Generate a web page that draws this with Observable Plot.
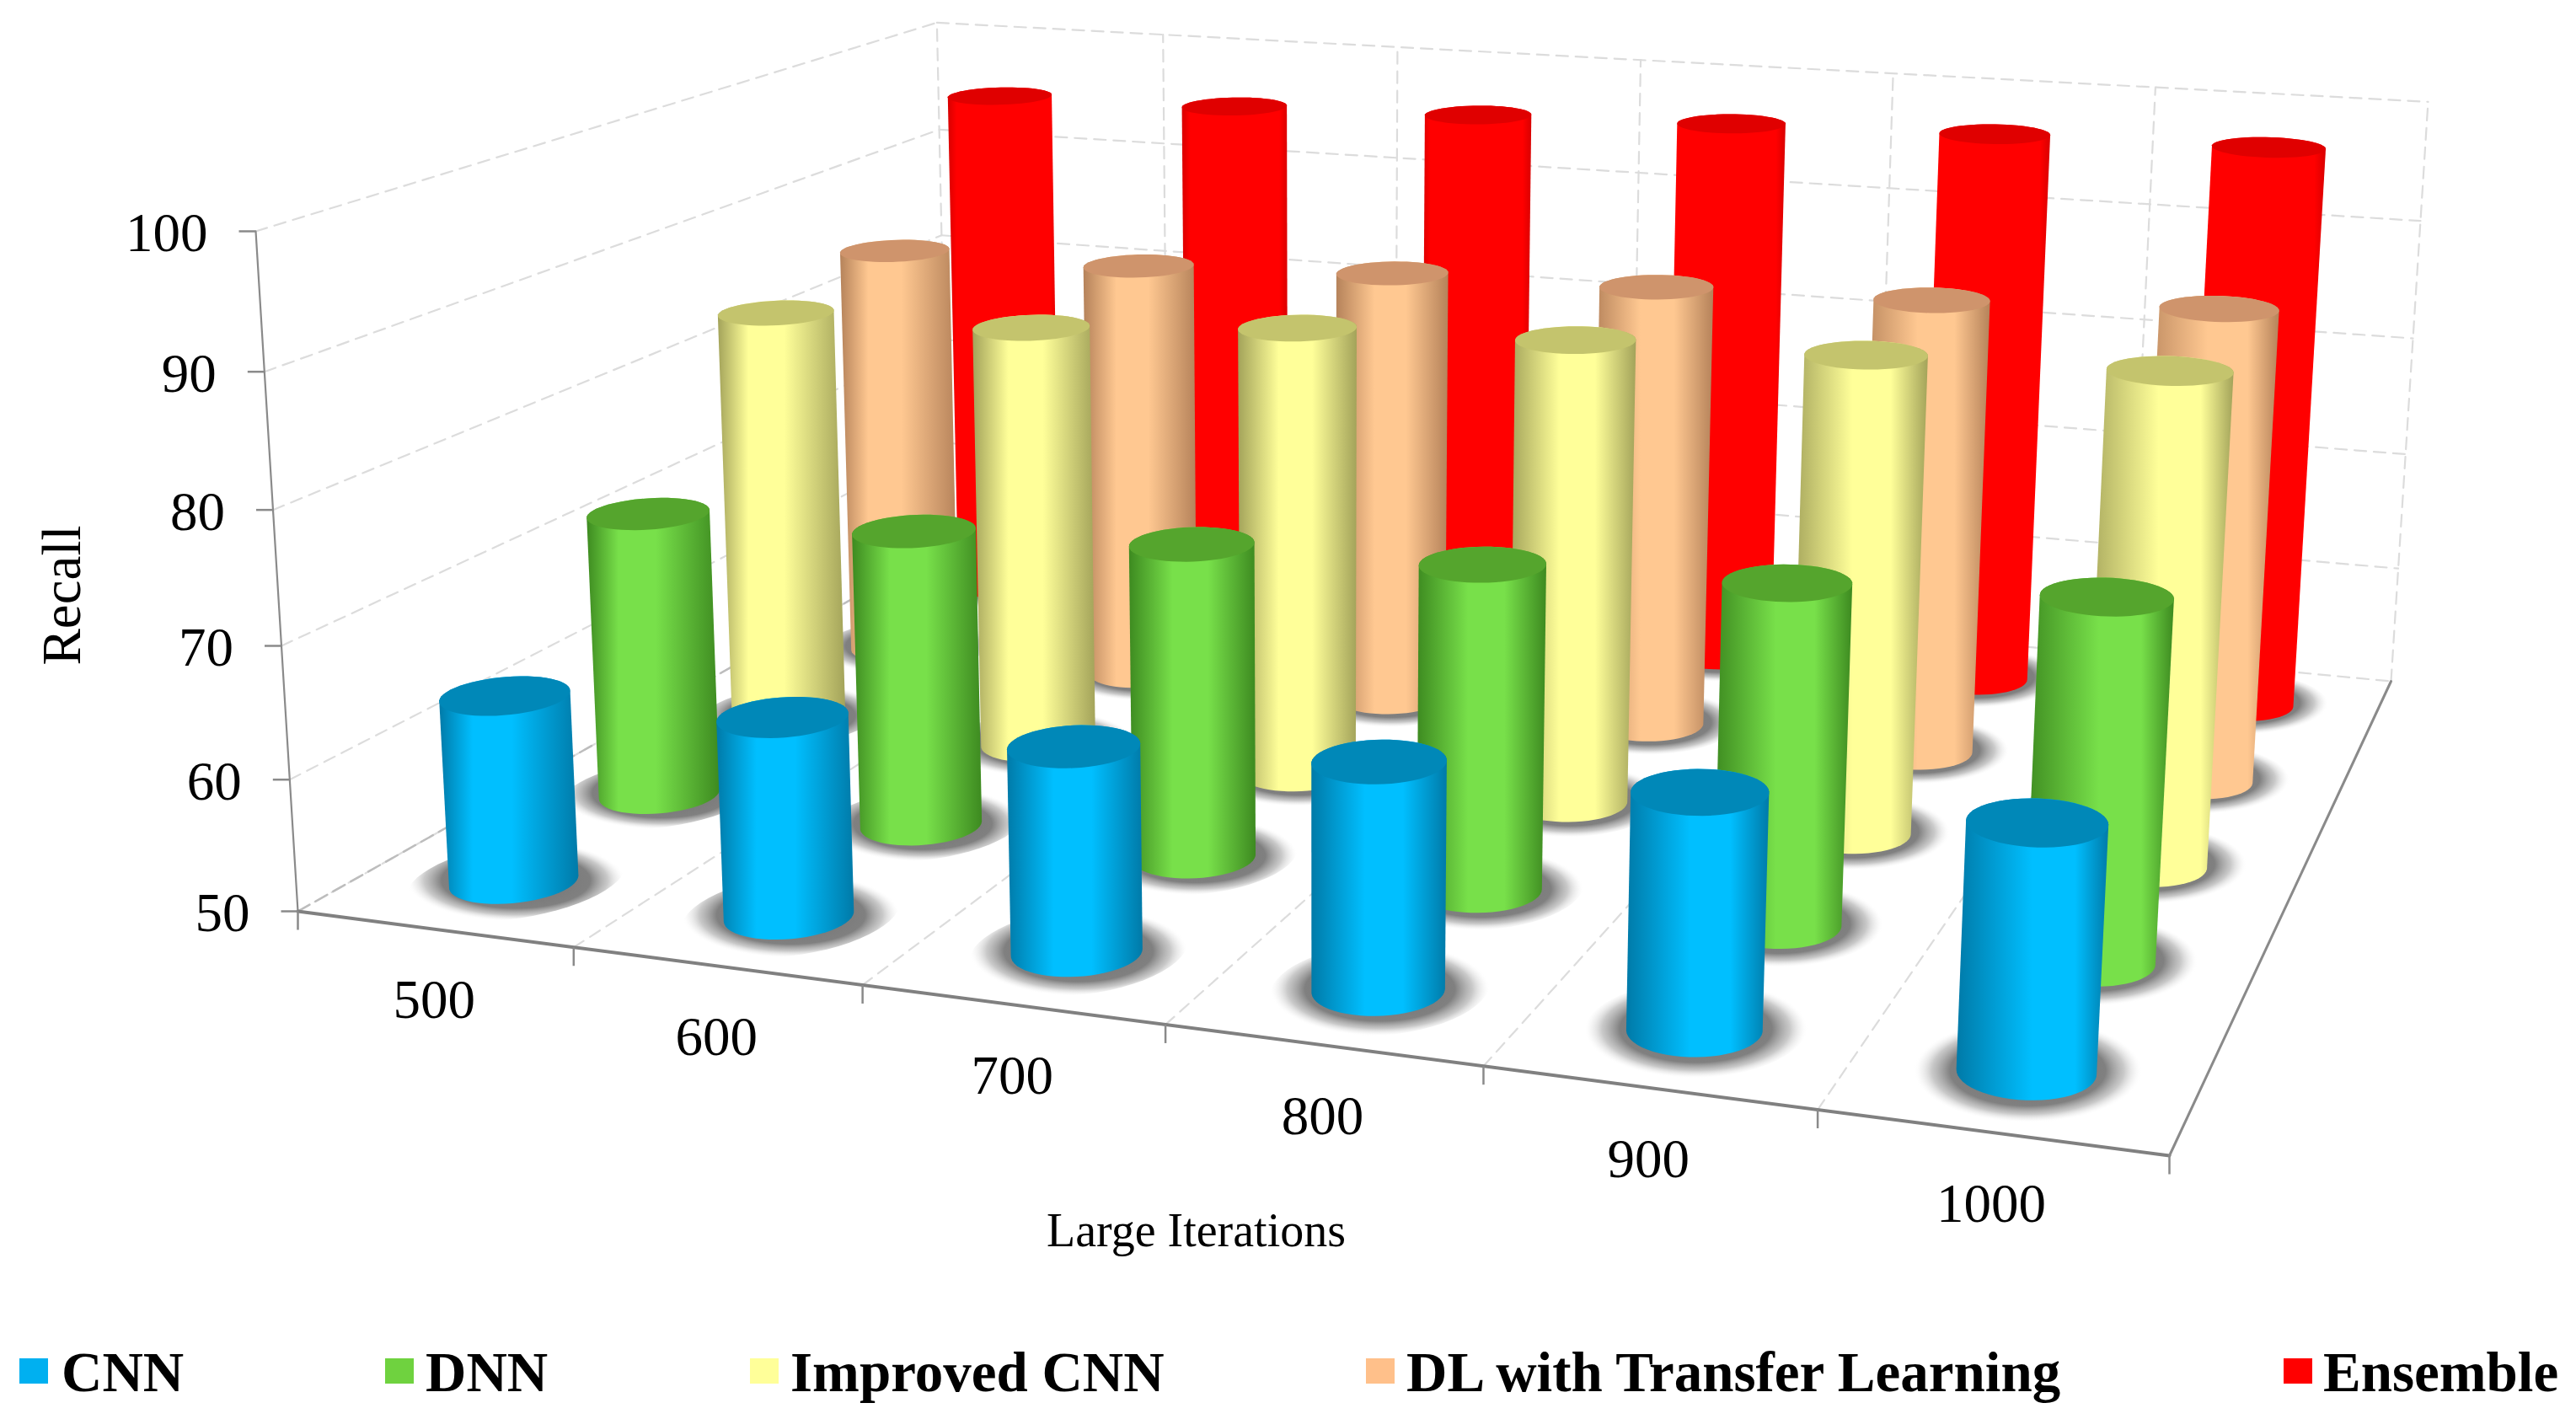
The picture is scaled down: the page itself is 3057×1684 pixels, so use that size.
<!DOCTYPE html>
<html><head><meta charset="utf-8">
<style>
html,body{margin:0;padding:0;background:#fff;overflow:hidden}
#legend{position:relative;height:124px;font:bold 67px "Liberation Serif",serif;color:#000}
#legend .k{position:absolute;top:52px;width:34px;height:30px}
#legend .t{position:absolute;top:32px;line-height:72px;white-space:nowrap}
</style>
<script src="https://cdn.jsdelivr.net/npm/d3@7"></script>
<script src="https://cdn.jsdelivr.net/npm/@observablehq/plot@0.6"></script>
</head><body><div id="chart"></div><div id="legend"></div>
<script>
const iterations = [500, 600, 700, 800, 900, 1000];
const recallTicks = [50, 60, 70, 80, 90, 100];
const seriesNames = ["CNN", "DNN", "Improved CNN", "DL with Transfer Learning", "Ensemble"];
const cnn      = [64.3, 65.0, 65.2, 66.5, 66.8, 67.2];
const dnn      = [72.7, 73.3, 74.3, 74.8, 75.5, 76.6];
const improved = [84.2, 84.6, 86.2, 86.9, 87.4, 87.9];
const transfer = [85.3, 85.5, 86.4, 86.8, 87.3, 88.2];
const ensemble = [95.4, 95.7, 96.2, 96.7, 97.1, 97.3];
const seriesValues = [cnn, dnn, improved, transfer, ensemble];
const lightColors = ["#00bfff", "#78e04a", "#ffff99", "#ffc891", "#ff0000"];
const darkColors  = ["#007aa8", "#3d8a20", "#a3a35a", "#b5825a", "#d80000"];
const topColors   = ["#0088b8", "#55a52d", "#c4c46d", "#cf946c", "#e00000"];
const legendColors= ["#00b0f0", "#6fd23f", "#ffff99", "#ffc08a", "#ff0000"];
const legendKeyX  = [23, 457, 890, 1621, 2710];
const legendTextX = [73, 505, 938, 1669, 2757];

// box corners of the 3D frame, (u along iterations, v along series, h along recall)
const O = [353, 1081], U = [2574, 1371], V = [1125, 646], B = [2837, 808], H = [303, 274], T = [2881, 118];
const W = 3057, SVGH = 1560;
const det = (a,b,c,d) => a*d - b*c;
const ax = B[0]-U[0], bx = B[0]-V[0], cx = U[0]+V[0]-O[0]-B[0];
const ay = B[1]-U[1], by = B[1]-V[1], cy = U[1]+V[1]-O[1]-B[1];
const wu = det(cx,bx,cy,by)/det(ax,bx,ay,by), wv = det(ax,cx,ay,cy)/det(ax,bx,ay,by);
const wh = ((U[0]+V[0]+H[0]-2*O[0]-T[0]) - wu*(T[0]-U[0]) - wv*(T[0]-V[0])) / (T[0]-H[0]);
function P(u, v, h) {
  const w = 1 + wu*u + wv*v + wh*h;
  const f = i => (O[i] + (U[i]*(1+wu)-O[i])*u + (V[i]*(1+wv)-O[i])*v + (H[i]*(1+wh)-O[i])*h) / w;
  return [f(0), f(1)];
}
const hOf = r => (r - 50) / 50;
const uOf = i => (i + 0.5) / iterations.length;
const vOf = s => (s + 0.5) / seriesNames.length;
const uEdge = i => i / iterations.length;

const RU = 0.0335, RV = 0.046, STEPS = 56;
const ring = (u, v, h, ru, rv) => d3.range(STEPS).map(k => {
  const t = 2*Math.PI*k/STEPS;
  return P(u + ru*Math.cos(t), v + rv*Math.sin(t), h);
});
const poly = pts => pts.map(p => ({x: p[0], y: p[1]}));

const marks = [];
// gradients: the highlight slides to the right with the column
marks.push(() => {
  const defs = d3.create("svg:defs");
  seriesNames.forEach((_, s) => {
    iterations.forEach((_, i) => {
      const g = defs.append("linearGradient").attr("id", `body${s}_${i}`);
      const c = 0.38 + 0.26 * i / (iterations.length - 1);
      const red = s === 4;
      const stops = red ? [[0,darkColors[s]],[.08,lightColors[s]],[.92,lightColors[s]],[1,darkColors[s]]]
        : [[0,darkColors[s]],[c-.14,lightColors[s]],[c+.14,lightColors[s]],[1,darkColors[s]]];
      stops.forEach(([o,col]) => g.append("stop").attr("offset", o).attr("stop-color", col));
    });
  });
  const r = defs.append("radialGradient").attr("id", "shadow");
  [[0,"#707070",1],[.68,"#808080",1],[.84,"#b4b4b4",.72],[.94,"#e0e0e0",.3],[1,"#ffffff",0]].forEach(([o,c,a]) =>
    r.append("stop").attr("offset", o).attr("stop-color", c).attr("stop-opacity", a));
  return defs.node();
});

// frame grid
const grey = {stroke: "#dcdcdc", strokeWidth: 2.2, strokeDasharray: "14 9"};
const seg = (a, b, opt = grey) => Plot.line([a, b], {x: d => d[0], y: d => d[1], ...opt});
recallTicks.forEach(r => {
  const h = hOf(r);
  marks.push(seg(P(0,0,h), P(0,1,h)));
  marks.push(seg(P(0,1,h), P(1,1,h)));
});
iterations.forEach((_, i) => {
  if (i > 0) marks.push(seg(P(uEdge(i),0,0), P(uEdge(i),1,0)));
  marks.push(seg(P(uEdge(i),1,0), P(uEdge(i),1,1)));
});
marks.push(seg(P(1,1,0), P(1,1,1)));
marks.push(seg(P(0,0,0), P(0,1,0), {stroke:"#bdbdbd", strokeWidth:2.5, strokeDasharray:"16 8"}));

// axes
const axisOpt = {stroke:"#8a8a8a", strokeWidth:3};
marks.push(seg(P(0,0,0), P(0,0,1), {stroke:"#8a8a8a", strokeWidth:2.2}));
marks.push(seg(P(0,0,0), P(1,0,0), {stroke:"#808080", strokeWidth:4}));
marks.push(seg(P(1,0,0), P(1,1,0), axisOpt));
const yTicks = recallTicks.map(r => ({r, p: P(0,0,hOf(r))}));
marks.push(Plot.link(yTicks, {x1: d => d.p[0]-20, y1: d => d.p[1], x2: d => d.p[0], y2: d => d.p[1], stroke:"#8a8a8a", strokeWidth:2.5}));
const xTicks = d3.range(iterations.length + 1).map(i => P(uEdge(i),0,0));
marks.push(Plot.link(xTicks, {x1: d => d[0], y1: d => d[1], x2: d => d[0], y2: d => d[1]+22, stroke:"#8a8a8a", strokeWidth:2.5}));

const serif = "Liberation Serif";
marks.push(Plot.text(yTicks, {x: d => d.p[0]-57, y: d => d.p[1]+3, text: d => String(d.r), textAnchor:"end", fontFamily:serif, fontSize:65, fill:"#000"}));
const xLabels = iterations.map((it, i) => ({it, p: P(uOf(i),0,0)}));
marks.push(Plot.text(xLabels, {x: d => d.p[0], y: d => d.p[1]+85, text: d => String(d.it), fontFamily:serif, fontSize:65, fill:"#000"}));
marks.push(Plot.text(["Recall"], {x: () => 74, y: () => 706, text: d => d, rotate:-90, fontFamily:serif, fontSize:65, fill:"#000"}));
marks.push(Plot.text(["Large Iterations"], {x: () => 1419, y: () => 1461, text: d => d, fontFamily:serif, fontSize:56, fill:"#000"}));

// floor shadows first
seriesNames.forEach((_, s0) => {
  const s = seriesNames.length - 1 - s0;
  iterations.forEach((_, i) => {
    marks.push(Plot.line(poly(ring(uOf(i), vOf(s) + 0.004, 0, RU*1.62, RV*1.85)), {x:"x", y:"y", curve:"linear-closed", fill:"url(#shadow)", stroke:"none"}));
  });
});
// cylinders back to front
seriesNames.forEach((_, s0) => {
  const s = seriesNames.length - 1 - s0;
  iterations.forEach((_, i) => {
    const u = uOf(i), v = vOf(s), h = hOf(seriesValues[s][i]);
    const bottom = ring(u, v, 0, RU, RV), top = ring(u, v, h, RU, RV);
    const hull = d3.polygonHull(bottom.concat(top));
    marks.push(Plot.line(poly(hull), {x:"x", y:"y", curve:"linear-closed", fill:`url(#body${s}_${i})`, stroke:"none"}));
    marks.push(Plot.line(poly(top), {x:"x", y:"y", curve:"linear-closed", fill:topColors[s], stroke:"none"}));
  });
});

const svg = Plot.plot({
  width: W, height: SVGH,
  margin: 0,
  x: {axis: null, type: "linear", domain: [0, W], range: [0, W]},
  y: {axis: null, type: "linear", domain: [0, SVGH], range: [0, SVGH]},
  style: {background: "#fff", display: "block", overflow: "visible"},
  marks
});
document.getElementById("chart").append(svg);

const lg = d3.select("#legend");
seriesNames.forEach((n, s) => {
  lg.append("div").attr("class","k").style("left", legendKeyX[s]+"px").style("background", legendColors[s]);
  lg.append("div").attr("class","t").style("left", legendTextX[s]+"px").text(n);
});
</script></body></html>
